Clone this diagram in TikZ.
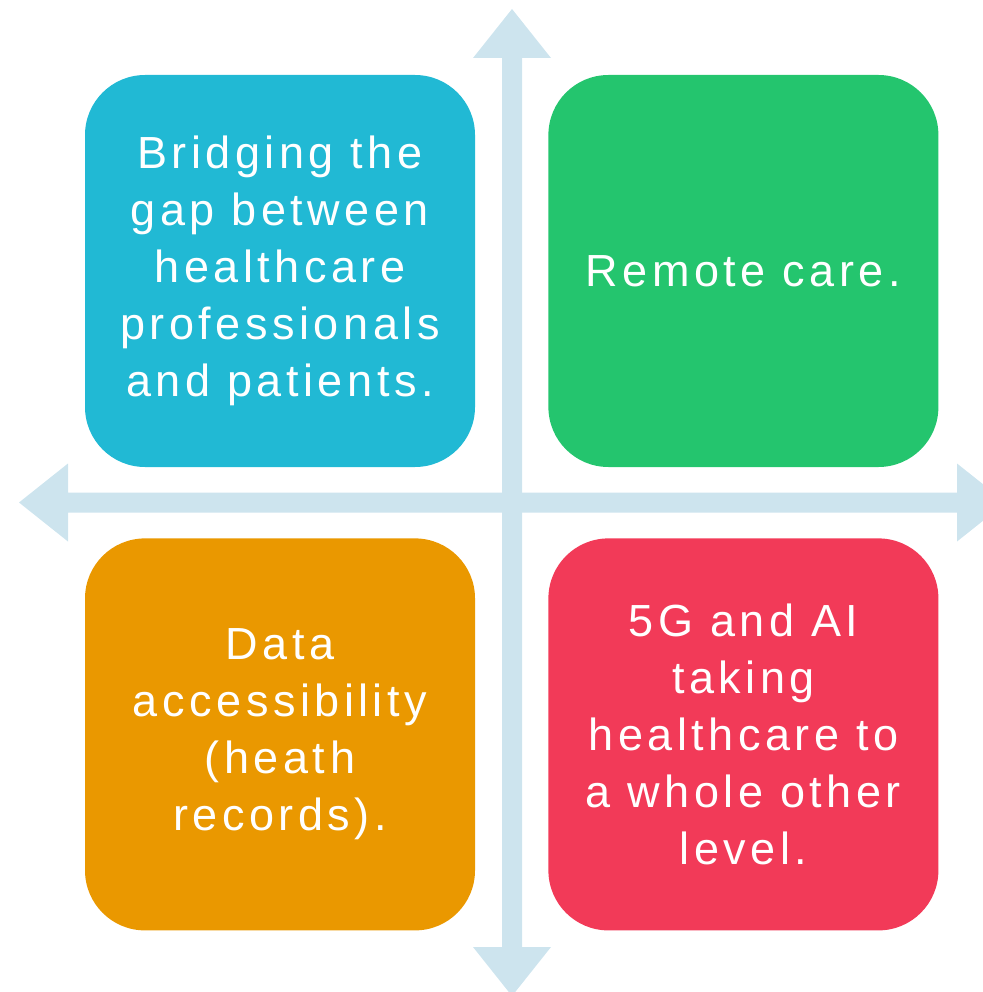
\documentclass[tikz,border=0pt]{standalone}
\usepackage{fontspec}
\setmainfont{Liberation Sans}
\usepackage{tikz}
\usetikzlibrary{positioning}
\definecolor{quadcyan}{RGB}{33,185,212}
\definecolor{quadgreen}{RGB}{36,197,110}
\definecolor{quadorange}{RGB}{234,152,0}
\definecolor{quadred}{RGB}{242,58,88}
\definecolor{axisblue}{RGB}{205,228,238}
\tikzset{
  quadbox/.style={rounded corners=60pt,inner sep=0pt,
    minimum width=390pt,minimum height=392pt,text=white,align=center,
    font=\fontsize{45}{57}\selectfont\addfontfeatures{LetterSpace=10}},
}

\begin{document}
\begin{tikzpicture}[x=1pt,y=-1pt]
  \useasboundingbox (0,0) rectangle (982,992);
  % axes as two double-headed block arrows
  \fill[axisblue] (512,9) -- (551,58) -- (522,58) -- (522,947) -- (551,947)
    -- (512,996) -- (473,947) -- (502,947) -- (502,58) -- (473,58) -- cycle;
  \fill[axisblue] (19,502.5) -- (68,463.5) -- (68,492.5) -- (957,492.5)
    -- (957,463.5) -- (1006,502.5) -- (957,541.5) -- (957,512.5)
    -- (68,512.5) -- (68,541.5) -- cycle;
  % the four quadrants
  \node[quadbox,fill=quadcyan] (bridge) at (280,271)
    {Bridging the\\gap between\\healthcare\\professionals\\and patients.};
  \node[quadbox,fill=quadgreen,right=73pt of bridge] (remote)
    {Remote care.};
  \node[quadbox,fill=quadorange,below=71pt of bridge] (data)
    {Data\\accessibility\\(heath\\records).};
  \node[quadbox,fill=quadred,below=71pt of remote] (fiveg)
    {5G and AI\\taking\\healthcare to\\a whole other\\level.};
\end{tikzpicture}
\end{document}
